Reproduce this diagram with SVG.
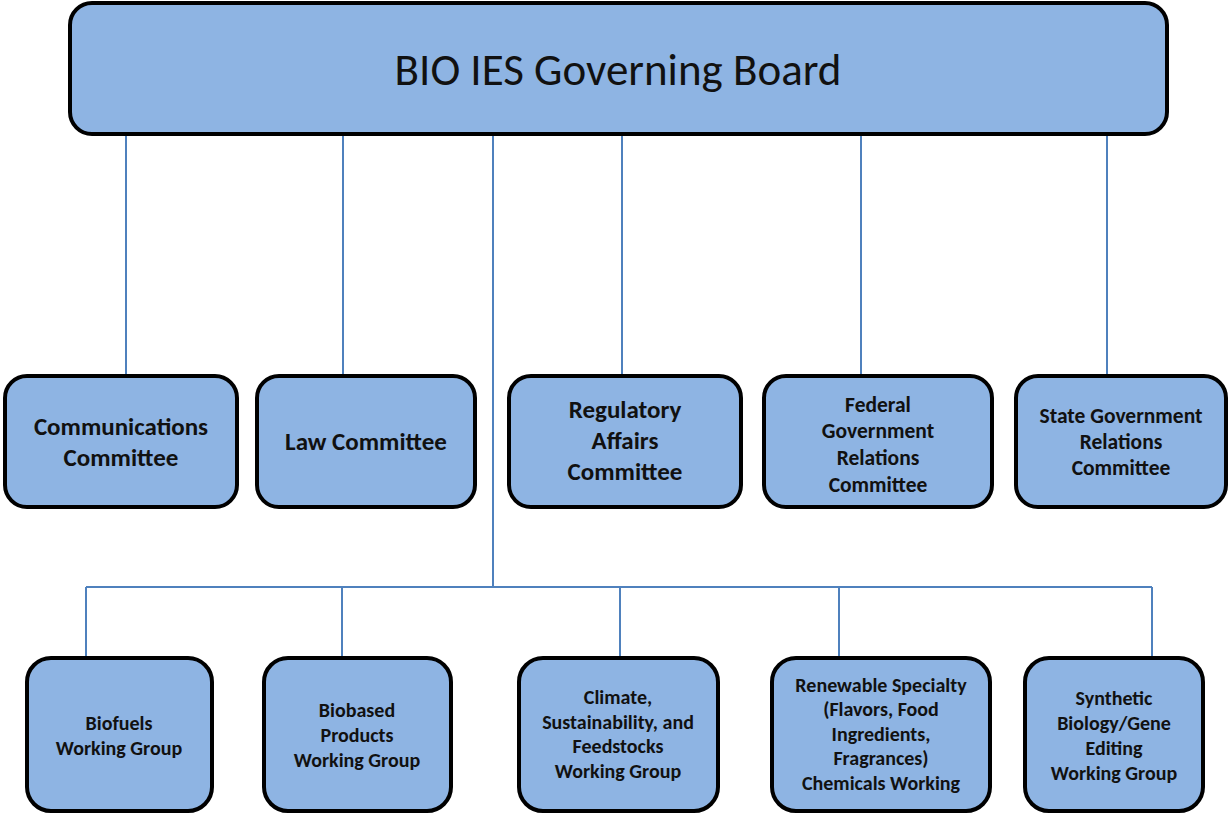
<svg xmlns="http://www.w3.org/2000/svg" width="1228" height="814" viewBox="0 0 1228 814">
<style>
.box{fill:#8EB4E3;stroke:#000;stroke-width:4}
.ln{stroke:#4F81BD;stroke-width:2;fill:none}
text{font-family:Carlito,Lato,"Liberation Sans",sans-serif;fill:#111;text-anchor:middle}
.t{font-size:45px}
.m{font-size:25px;font-weight:bold}
.m2{font-size:21.5px;font-weight:bold}
.b{font-size:20px;font-weight:bold}
</style>
<rect width="1228" height="814" fill="#fff"/>
<g id="connectors">
<path class="ln" d="M126 135V375M343 135V375M622 135V375M861 135V375M1107 135V375M493 135V587M86 587H1152M86 587V657M342 587V657M620 587V657M839 587V657M1152 587V657"/>
</g>
<g id="board">
<rect class="box" x="70" y="3" width="1097" height="131" rx="22"/>
<text class="t" x="618" y="85">BIO IES Governing Board</text>
</g>
<g id="communications">
<rect class="box" x="5" y="376" width="232" height="131" rx="22"/>
<text class="m" x="121" y="435">Communications</text>
<text class="m" x="121" y="466">Committee</text>
</g>
<g id="law">
<rect class="box" x="257" y="376" width="218" height="131" rx="22"/>
<text class="m" x="366" y="450">Law Committee</text>
</g>
<g id="regulatory">
<rect class="box" x="509" y="376" width="232" height="131" rx="22"/>
<text class="m" x="625" y="418">Regulatory</text>
<text class="m" x="625" y="449">Affairs</text>
<text class="m" x="625" y="480">Committee</text>
</g>
<g id="federal">
<rect class="box" x="764" y="376" width="228" height="131" rx="22"/>
<text class="m2" x="878" y="412">Federal</text>
<text class="m2" x="878" y="438">Government</text>
<text class="m2" x="878" y="465">Relations</text>
<text class="m2" x="878" y="492">Committee</text>
</g>
<g id="state">
<rect class="box" x="1016" y="376" width="210" height="131" rx="22"/>
<text class="m2" x="1121" y="423">State Government</text>
<text class="m2" x="1121" y="449">Relations</text>
<text class="m2" x="1121" y="475">Committee</text>
</g>
<g id="biofuels">
<rect class="box" x="27" y="658" width="185" height="153" rx="24"/>
<text class="b" x="119" y="730">Biofuels</text>
<text class="b" x="119" y="755">Working Group</text>
</g>
<g id="biobased">
<rect class="box" x="264" y="658" width="187" height="153" rx="24"/>
<text class="b" x="357" y="717">Biobased</text>
<text class="b" x="357" y="742">Products</text>
<text class="b" x="357" y="767">Working Group</text>
</g>
<g id="climate">
<rect class="box" x="519" y="658" width="199" height="153" rx="24"/>
<text class="b" x="618" y="704">Climate,</text>
<text class="b" x="618" y="729">Sustainability, and</text>
<text class="b" x="618" y="753">Feedstocks</text>
<text class="b" x="618" y="778">Working Group</text>
</g>
<g id="renewable">
<rect class="box" x="772" y="658" width="218" height="153" rx="24"/>
<text class="b" x="881" y="692">Renewable Specialty</text>
<text class="b" x="881" y="716">(Flavors, Food</text>
<text class="b" x="881" y="741">Ingredients,</text>
<text class="b" x="881" y="765">Fragrances)</text>
<text class="b" x="881" y="790">Chemicals Working</text>
</g>
<g id="synthetic">
<rect class="box" x="1025" y="658" width="178" height="153" rx="24"/>
<text class="b" x="1114" y="705">Synthetic</text>
<text class="b" x="1114" y="730">Biology/Gene</text>
<text class="b" x="1114" y="755">Editing</text>
<text class="b" x="1114" y="780">Working Group</text>
</g>
</svg>
